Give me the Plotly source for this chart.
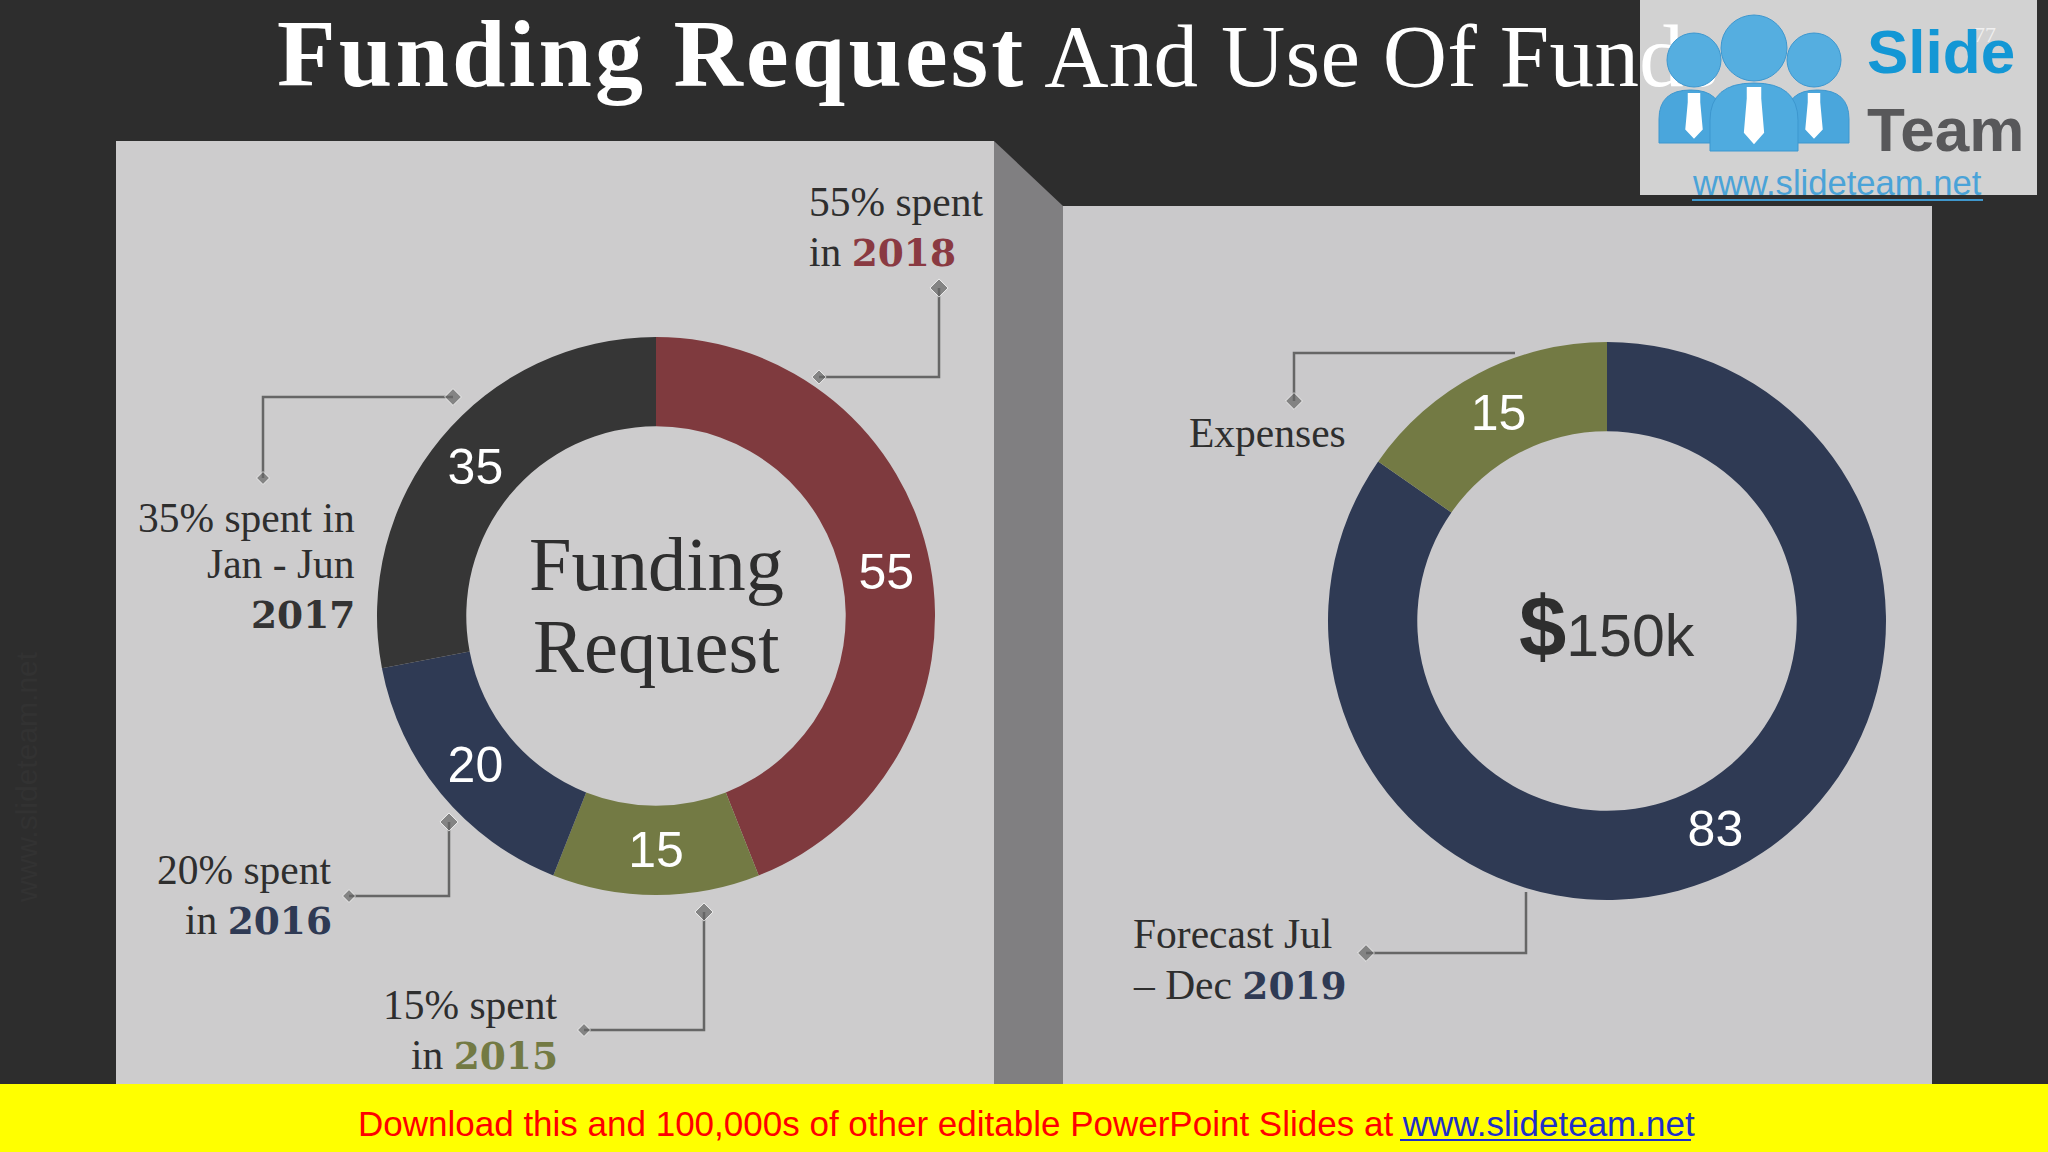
import plotly.graph_objects as go

W, H = 2048, 1152

# donut data
funding_labels = ["2018", "2015", "2016", "2017"]
funding_values = [55, 15, 20, 35]
funding_colors = ["#7f3a3e", "#737a44", "#2f3a54", "#363636"]

forecast_labels = ["Forecast Jul - Dec 2019", "Expenses"]
forecast_values = [83, 15]
forecast_colors = ["#2f3a54", "#737a44"]

RED, OLIVE, NAVY, DARK = "#8a3a42", "#737a44", "#2f3a54", "#2e2e2e"
SERIF = "Liberation Serif"
SANS = "Liberation Sans"
GREY = "#666666"

# leader lines: path points, then size of the diamond at each end (0 = none)
leaders = [
    ([939, 939, 819], [288, 377, 377], 14, 11),
    ([263, 263, 453], [478, 397, 397], 10, 13),
    ([449, 449, 349], [822, 896, 896], 14, 10),
    ([704, 704, 584], [912, 1030, 1030], 14, 10),
    ([1526, 1526, 1366], [892, 953, 953], 0, 13),
    ([1515, 1294, 1294], [353, 353, 401], 0, 13),
]


def year(text, color):
    return f'<span style="font-family:DejaVu Serif;font-size:37.5px;font-weight:bold;color:{color}">{text}</span>'


# text lines: content, x, baseline y, anchor
labels = [
    ("55% spent", 807, 214, "left"),
    ("in " + year("2018", RED), 807, 264, "left"),
    ("35% spent in", 357, 530, "right"),
    ("Jan - Jun", 357, 576, "right"),
    (year("2017", "#333333"), 357, 627, "right"),
    ("20% spent", 334, 882, "right"),
    ("in " + year("2016", NAVY), 334, 932, "right"),
    ("15% spent", 560, 1017, "right"),
    ("in " + year("2015", OLIVE), 560, 1067, "right"),
    ("Expenses", 1187, 445, "left"),
    ("Forecast Jul", 1131, 946, "left"),
    ("– Dec " + year("2019", NAVY), 1131, 997, "left"),
]


def annotation(text, x, base, anchor="left", size=41.5, family=SERIF, color=DARK):
    return dict(
        text=text, x=x, y=base - 0.3 * size, xref="x", yref="y",
        xanchor=anchor, yanchor="middle", align=anchor, showarrow=False,
        font=dict(family=family, size=size, color=color),
    )


def domain(cx, cy, r):
    return dict(x=[(cx - r) / W, (cx + r) / W], y=[1 - (cy + r) / H, 1 - (cy - r) / H])


def body(x0, x1, y0, y1):
    xc, ym = (x0 + x1) / 2, y0 + (y1 - y0) * 0.55
    return f"M {x0},{y1} L {x0},{ym} Q {x0},{y0} {xc},{y0} Q {x1},{y0} {x1},{ym} L {x1},{y1} Z"


def tie(cx, top, sx, sy):
    return (f"M {cx-5*sx},{top} L {cx+5*sx},{top} L {cx+5*sx},{top+11*sy} L {cx+7*sx},{top+44*sy} "
            f"L {cx},{top+55*sy} L {cx-7*sx},{top+44*sy} L {cx-5*sx},{top+11*sy} Z")


fig = go.Figure()

# title goes in a text trace so the logo can sit on top of it
fig.add_trace(go.Scatter(
    x=[277], y=[62], mode="text", textposition="middle right", cliponaxis=False,
    text=['<span style="letter-spacing:3.2px"><b>Funding Request</b></span>'
          '<span style="font-size:89px;letter-spacing:0.3px"> And Use Of Funds</span>'],
    textfont=dict(family=SERIF, size=96, color="white"),
    hoverinfo="skip", showlegend=False,
))
fig.add_trace(go.Scatter(
    x=[1985], y=[36], mode="text", text=["77"], cliponaxis=False,
    textfont=dict(family=SERIF, size=22, color="#f0f0f0"),
    hoverinfo="skip", showlegend=False,
))

for xs, ys, start, end in leaders:
    fig.add_trace(go.Scatter(
        x=xs, y=ys, mode="lines+markers",
        line=dict(color=GREY, width=2.5),
        marker=dict(symbol="diamond", color=GREY, size=[start, 0, end]),
        hoverinfo="skip", showlegend=False,
    ))

fig.add_trace(go.Pie(
    labels=funding_labels, values=funding_values, hole=0.68, sort=False,
    direction="clockwise", rotation=0, domain=domain(656, 616, 279),
    marker=dict(colors=funding_colors, line=dict(width=0)),
    textinfo="value", textposition="inside", insidetextorientation="horizontal",
    insidetextfont=dict(family=SANS, size=50, color="white"),
    showlegend=False,
))
fig.add_trace(go.Pie(
    labels=forecast_labels, values=forecast_values, hole=0.68, sort=False,
    direction="clockwise", rotation=0, domain=domain(1607, 621, 279),
    marker=dict(colors=forecast_colors, line=dict(width=0)),
    textinfo="value", textposition="inside", insidetextorientation="horizontal",
    insidetextfont=dict(family=SANS, size=50, color="white"),
    showlegend=False,
))

shapes = [
    # panels
    dict(type="rect", x0=116, x1=994, y0=141, y1=1084, fillcolor="#cdcccd", line_width=0, layer="below"),
    dict(type="path", path="M 994,141 L 1063,206 L 1063,1084 L 994,1084 Z", fillcolor="#807f81", line_width=0, layer="below"),
    dict(type="rect", x0=1063, x1=1932, y0=206, y1=1084, fillcolor="#cac9cb", line_width=0, layer="below"),
    # logo box, under the title
    dict(type="rect", x0=1640, x1=2037, y0=0, y1=195, fillcolor="#d2d2d2", line_width=0, layer="below"),
    # banner
    dict(type="rect", x0=0, x1=W, y0=1084, y1=H, fillcolor="#ffff00", line_width=0, layer="above"),
    dict(type="line", x0=1400, x1=1691, y0=1140, y1=1140, line=dict(color="#1f2fc8", width=2), layer="above"),
    # logo figures
    dict(type="path", path=body(1659, 1722, 90, 143), fillcolor="#4aa6dc", line=dict(color="#3d97cf", width=1), layer="above"),
    dict(type="path", path=body(1786, 1849, 90, 143), fillcolor="#4aa6dc", line=dict(color="#3d97cf", width=1), layer="above"),
    dict(type="path", path=body(1710, 1798, 83, 151), fillcolor="#4fabdf", line=dict(color="#3d97cf", width=1), layer="above"),
    dict(type="circle", x0=1667, x1=1721, y0=33, y1=87, fillcolor="#55aee0", line=dict(color="#3d97cf", width=1), layer="above"),
    dict(type="circle", x0=1787, x1=1841, y0=33, y1=87, fillcolor="#55aee0", line=dict(color="#3d97cf", width=1), layer="above"),
    dict(type="circle", x0=1721, x1=1787, y0=15, y1=81, fillcolor="#55aee0", line=dict(color="#3d97cf", width=1), layer="above"),
    dict(type="path", path=tie(1694, 93, 1.25, 0.83), fillcolor="white", line_width=0, layer="above"),
    dict(type="path", path=tie(1814, 93, 1.25, 0.83), fillcolor="white", line_width=0, layer="above"),
    dict(type="path", path=tie(1754, 87, 1.45, 1.04), fillcolor="white", line_width=0, layer="above"),
    dict(type="line", x0=1692, x1=1983, y0=200, y1=200, line=dict(color="#3f97cc", width=2), layer="above"),
]

annotations = [annotation(*row) for row in labels]
annotations += [
    annotation("Funding", 656, 587, "center", 76.5),
    annotation("Request", 656, 669, "center", 76.5),
    annotation('<b><span style="font-size:85px">$</span></b><span style="color:#333333">150k</span>',
               1607, 644, "center", 59, SANS),
    annotation("<b>Slide</b>", 1865, 70, "left", 62, SANS, "#1397d5"),
    annotation("<b>Team</b>", 1865, 148, "left", 62, SANS, "#58585a"),
    annotation("www.slideteam.net", 1690, 193, "left", 34.6, SANS, "#4aa3d8"),
    annotation('Download this and 100,000s of other editable PowerPoint Slides at '
               '<span style="color:#1f2fc8">www.slideteam.net</span>',
               356, 1134, "left", 35, SANS, "#ff0000"),
    # barely visible watermark on the left edge
    dict(text="www.slideteam.net", x=26, y=777, xref="x", yref="y", textangle=-90, showarrow=False,
         font=dict(family=SANS, size=30, color="#323232")),
]

fig.update_layout(
    width=W, height=H, margin=dict(l=0, r=0, t=0, b=0),
    paper_bgcolor="#2d2d2d", plot_bgcolor="#2d2d2d",
    xaxis=dict(range=[0, W], visible=False, domain=[0, 1]),
    yaxis=dict(range=[H, 0], visible=False, domain=[0, 1]),
    shapes=shapes, annotations=annotations,
)

# page has a default body margin, drop it so the figure fills the window
fig.write_html("out.html", config={"displayModeBar": False},
               post_script="document.body.style.margin='0'")
